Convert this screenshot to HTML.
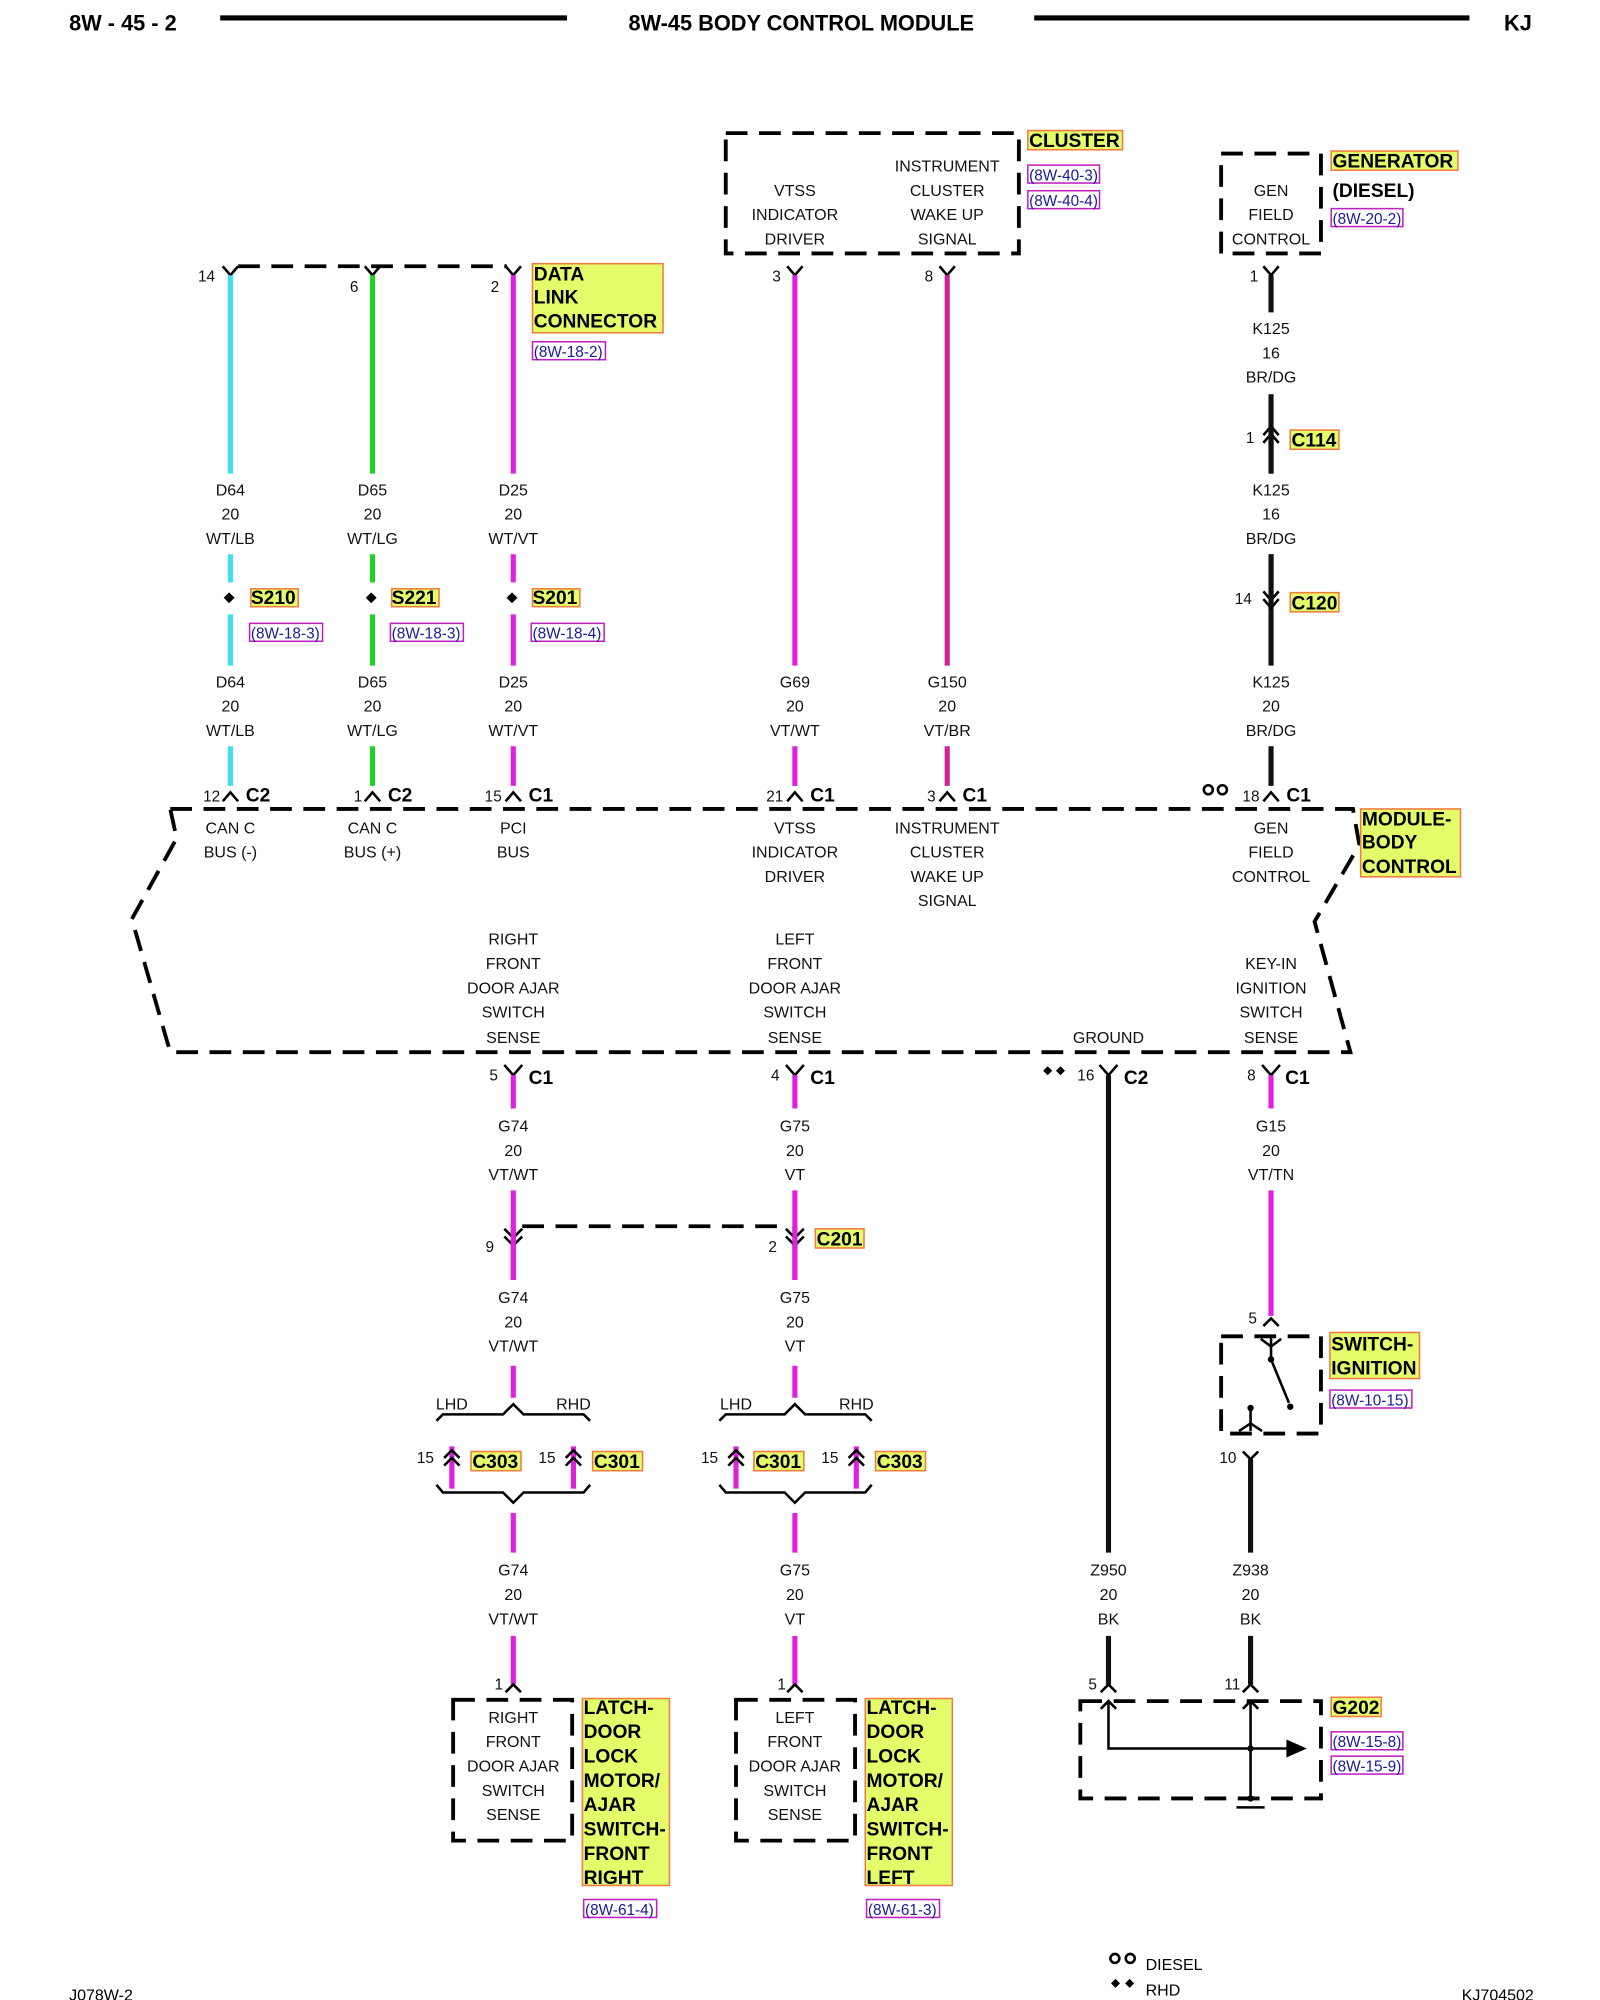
<!DOCTYPE html>
<html><head><meta charset="utf-8">
<style>
html,body{margin:0;padding:0;background:#fff;}
svg{display:block;}
.t{font-family:"Liberation Sans",sans-serif;font-size:12.5px;text-anchor:middle;fill:#111;}
.n{font-family:"Liberation Sans",sans-serif;font-size:12px;text-anchor:end;fill:#111;}
.c{font-family:"Liberation Sans",sans-serif;font-size:15px;font-weight:bold;fill:#000;}
.h{font-family:"Liberation Sans",sans-serif;font-size:17px;font-weight:bold;fill:#000;}
.y{font-family:"Liberation Sans",sans-serif;font-size:15px;font-weight:bold;fill:#000;}
.r{font-family:"Liberation Sans",sans-serif;font-size:12px;fill:#1a1a9a;}
.yb{fill:#e4fb6a;stroke:#f07a40;stroke-width:1.2;}
.rb{fill:none;stroke:#c020c0;stroke-width:1.2;}
.d{fill:none;stroke:#000;stroke-width:3;stroke-dasharray:17,9;}
.k{fill:none;stroke:#000;stroke-width:2;}
</style></head>
<body>
<svg width="1600" height="2000" viewBox="0 0 1250 1562.5" xmlns="http://www.w3.org/2000/svg">
<!-- header -->
<text class="h" x="54" y="24">8W - 45 - 2</text>
<line x1="172" y1="14" x2="443" y2="14" stroke="#000" stroke-width="4"/>
<text class="h" x="626" y="24" text-anchor="middle">8W-45 BODY CONTROL MODULE</text>
<line x1="808" y1="14" x2="1148" y2="14" stroke="#000" stroke-width="4"/>
<text class="h" x="1175" y="24">KJ</text>

<!-- DATA LINK CONNECTOR -->
<path class="d" d="M186 208 H396" stroke-width="2.5"/>
<g class="k">
<path d="M174 208 L180 215 L186 208"/><path d="M285 208 L291 215 L297 208"/><path d="M395 208 L401 215 L407 208"/>
</g>
<text class="n" x="168" y="220">14</text><text class="n" x="280" y="228">6</text><text class="n" x="390" y="228">2</text>
<rect class="yb" x="416" y="206" width="102" height="54"/>
<text class="y" x="417" y="219">DATA</text><text class="y" x="417" y="237">LINK</text><text class="y" x="417" y="256">CONNECTOR</text>
<rect class="rb" x="416" y="267" width="57" height="14"/><text class="r" x="417" y="279">(8W-18-2)</text>

<!-- CLUSTER box -->
<rect class="d" x="567" y="104" width="229" height="94"/>
<text class="t" x="621" y="153">VTSS</text><text class="t" x="621" y="172">INDICATOR</text><text class="t" x="621" y="191">DRIVER</text>
<text class="t" x="740" y="134">INSTRUMENT</text><text class="t" x="740" y="153">CLUSTER</text><text class="t" x="740" y="172">WAKE UP</text><text class="t" x="740" y="191">SIGNAL</text>
<rect class="yb" x="803" y="102" width="74" height="15"/><text class="y" x="804" y="115">CLUSTER</text>
<rect class="rb" x="803" y="129" width="56" height="14"/><text class="r" x="804" y="141">(8W-40-3)</text>
<rect class="rb" x="803" y="149" width="56" height="14"/><text class="r" x="804" y="161">(8W-40-4)</text>
<g class="k"><path d="M615 208 L621 215 L627 208"/><path d="M734 208 L740 215 L746 208"/></g>
<text class="n" x="610" y="220">3</text><text class="n" x="729" y="220">8</text>

<!-- GENERATOR box -->
<rect class="d" x="954" y="120" width="78" height="78"/>
<text class="t" x="993" y="153">GEN</text><text class="t" x="993" y="172">FIELD</text><text class="t" x="993" y="191">CONTROL</text>
<rect class="yb" x="1040" y="118" width="99" height="15"/><text class="y" x="1041" y="131">GENERATOR</text>
<text class="y" x="1041" y="154">(DIESEL)</text>
<rect class="rb" x="1040" y="163" width="56" height="14"/><text class="r" x="1041" y="175">(8W-20-2)</text>
<g class="k"><path d="M987 208 L993 215 L999 208"/></g>
<text class="n" x="983" y="220">1</text>

<!-- upper wires -->
<g stroke-width="4" fill="none">
<path d="M180 215 V370 M180 433 V455 M180 480 V520 M180 583 V614" stroke="#3ee0f0"/>
<path d="M291 215 V370 M291 433 V455 M291 480 V520 M291 583 V614" stroke="#22d022"/>
<path d="M401 215 V370 M401 433 V455 M401 480 V520 M401 583 V614" stroke="#e020e0"/>
<path d="M621 215 V520 M621 583 V614" stroke="#e020e0"/>
<path d="M740 215 V520 M740 583 V614" stroke="#d0209a"/>
<path d="M993 215 V244 M993 308 V370 M993 433 V520 M993 583 V614" stroke="#111"/>
</g>
<!-- wire labels top -->
<g class="t">
<text x="180" y="387">D64</text><text x="180" y="406">20</text><text x="180" y="425">WT/LB</text>
<text x="291" y="387">D65</text><text x="291" y="406">20</text><text x="291" y="425">WT/LG</text>
<text x="401" y="387">D25</text><text x="401" y="406">20</text><text x="401" y="425">WT/VT</text>
<text x="180" y="537">D64</text><text x="180" y="556">20</text><text x="180" y="575">WT/LB</text>
<text x="291" y="537">D65</text><text x="291" y="556">20</text><text x="291" y="575">WT/LG</text>
<text x="401" y="537">D25</text><text x="401" y="556">20</text><text x="401" y="575">WT/VT</text>
<text x="621" y="537">G69</text><text x="621" y="556">20</text><text x="621" y="575">VT/WT</text>
<text x="740" y="537">G150</text><text x="740" y="556">20</text><text x="740" y="575">VT/BR</text>
<text x="993" y="261">K125</text><text x="993" y="280">16</text><text x="993" y="299">BR/DG</text>
<text x="993" y="387">K125</text><text x="993" y="406">16</text><text x="993" y="425">BR/DG</text>
<text x="993" y="537">K125</text><text x="993" y="556">20</text><text x="993" y="575">BR/DG</text>
</g>
<!-- splices -->
<g fill="#000"><rect x="176" y="464" width="6" height="6" transform="rotate(45 179 467)"/><rect x="287" y="464" width="6" height="6" transform="rotate(45 290 467)"/><rect x="397" y="464" width="6" height="6" transform="rotate(45 400 467)"/></g>
<rect class="yb" x="196" y="460" width="37" height="14"/><text class="y" x="196" y="472" font-size="14">S210</text>
<rect class="yb" x="306" y="460" width="37" height="14"/><text class="y" x="306" y="472" font-size="14">S221</text>
<rect class="yb" x="416" y="460" width="37" height="14"/><text class="y" x="416" y="472" font-size="14">S201</text>
<rect class="rb" x="195" y="487" width="57" height="14"/><text class="r" x="196" y="499">(8W-18-3)</text>
<rect class="rb" x="305" y="487" width="57" height="14"/><text class="r" x="306" y="499">(8W-18-3)</text>
<rect class="rb" x="415" y="487" width="57" height="14"/><text class="r" x="416" y="499">(8W-18-4)</text>

<!-- C114 / C120 -->
<g class="k" stroke-width="2.2">
<path d="M987 340 L993 333 L999 340 M987 346 L993 339 L999 346"/>
<path d="M987 462 L993 469 L999 462 M987 468 L993 475 L999 468"/>
</g>
<path d="M993 333 V370 M993 433 V470" stroke="#111" stroke-width="4"/>
<text class="n" x="980" y="346">1</text>
<rect class="yb" x="1008" y="336" width="38" height="15"/><text class="y" x="1009" y="349" font-size="14">C114</text>
<text class="n" x="978" y="472">14</text>
<rect class="yb" x="1008" y="463" width="38" height="15"/><text class="y" x="1009" y="476" font-size="14">C120</text>

<!-- module top connectors -->
<g class="k">
<path d="M174 626 L180 619 L186 626"/><path d="M285 626 L291 619 L297 626"/><path d="M395 626 L401 619 L407 626"/>
<path d="M615 626 L621 619 L627 626"/><path d="M734 626 L740 619 L746 626"/><path d="M987 626 L993 619 L999 626"/>
</g>
<g>
<text class="n" x="172" y="626">12</text><text class="c" x="192" y="626">C2</text>
<text class="n" x="283" y="626">1</text><text class="c" x="303" y="626">C2</text>
<text class="n" x="392" y="626">15</text><text class="c" x="413" y="626">C1</text>
<text class="n" x="612" y="626">21</text><text class="c" x="633" y="626">C1</text>
<text class="n" x="731" y="626">3</text><text class="c" x="752" y="626">C1</text>
<text class="n" x="984" y="626">18</text><text class="c" x="1005" y="626">C1</text>
</g>
<circle cx="944" cy="617" r="3.5" fill="none" stroke="#000" stroke-width="2"/><circle cx="955" cy="617" r="3.5" fill="none" stroke="#000" stroke-width="2"/>

<!-- module box -->
<path class="d" stroke-width="2.6" d="M133 632 H1057 L1062 660 L1027 720 L1055 822 H133 L103 718 L138 655 Z"/>
<rect class="yb" x="1063" y="632" width="78" height="53"/>
<text class="y" x="1064" y="645">MODULE-</text><text class="y" x="1064" y="663">BODY</text><text class="y" x="1064" y="682">CONTROL</text>
<g class="t">
<text x="180" y="651">CAN C</text><text x="180" y="670">BUS (-)</text>
<text x="291" y="651">CAN C</text><text x="291" y="670">BUS (+)</text>
<text x="401" y="651">PCI</text><text x="401" y="670">BUS</text>
<text x="621" y="651">VTSS</text><text x="621" y="670">INDICATOR</text><text x="621" y="689">DRIVER</text>
<text x="740" y="651">INSTRUMENT</text><text x="740" y="670">CLUSTER</text><text x="740" y="689">WAKE UP</text><text x="740" y="708">SIGNAL</text>
<text x="993" y="651">GEN</text><text x="993" y="670">FIELD</text><text x="993" y="689">CONTROL</text>
<text x="401" y="738">RIGHT</text><text x="401" y="757">FRONT</text><text x="401" y="776">DOOR AJAR</text><text x="401" y="795">SWITCH</text><text x="401" y="815">SENSE</text>
<text x="621" y="738">LEFT</text><text x="621" y="757">FRONT</text><text x="621" y="776">DOOR AJAR</text><text x="621" y="795">SWITCH</text><text x="621" y="815">SENSE</text>
<text x="866" y="815">GROUND</text>
<text x="993" y="757">KEY-IN</text><text x="993" y="776">IGNITION</text><text x="993" y="795">SWITCH</text><text x="993" y="815">SENSE</text>
</g>

<!-- module bottom connectors -->
<g class="k">
<path d="M394 832 L401 840 L408 832"/><path d="M614 832 L621 840 L628 832"/><path d="M859 832 L866 840 L873 832"/><path d="M986 832 L993 840 L1000 832"/>
</g>
<text class="n" x="389" y="844">5</text><text class="c" x="413" y="847">C1</text>
<text class="n" x="609" y="844">4</text><text class="c" x="633" y="847">C1</text>
<text class="n" x="855" y="844">16</text><text class="c" x="878" y="847">C2</text>
<text class="n" x="981" y="844">8</text><text class="c" x="1004" y="847">C1</text>
<g fill="#000"><rect x="816" y="834" width="5" height="5" transform="rotate(45 818.5 836.5)"/><rect x="826" y="834" width="5" height="5" transform="rotate(45 828.5 836.5)"/></g>

<!-- lower wires -->
<g stroke-width="4" fill="none">
<path d="M401 840 V866 M401 930 V1000 M401 1067 V1092 M353 1130 V1163 M448 1130 V1163 M401 1182 V1213 M401 1278 V1316" stroke="#e020e0"/>
<path d="M621 840 V866 M621 930 V1000 M621 1067 V1092 M575 1130 V1163 M669 1130 V1163 M621 1182 V1213 M621 1278 V1316" stroke="#e020e0"/>
<path d="M993 840 V866 M993 930 V1028" stroke="#e020e0"/>
<path d="M866 840 V1213 M866 1278 V1316 M977 1140 V1213 M977 1278 V1316" stroke="#111"/>
</g>
<g class="t">
<text x="401" y="884">G74</text><text x="401" y="903">20</text><text x="401" y="922">VT/WT</text>
<text x="621" y="884">G75</text><text x="621" y="903">20</text><text x="621" y="922">VT</text>
<text x="993" y="884">G15</text><text x="993" y="903">20</text><text x="993" y="922">VT/TN</text>
<text x="401" y="1018">G74</text><text x="401" y="1037">20</text><text x="401" y="1056">VT/WT</text>
<text x="621" y="1018">G75</text><text x="621" y="1037">20</text><text x="621" y="1056">VT</text>
<text x="401" y="1231">G74</text><text x="401" y="1250">20</text><text x="401" y="1269">VT/WT</text>
<text x="621" y="1231">G75</text><text x="621" y="1250">20</text><text x="621" y="1269">VT</text>
<text x="866" y="1231">Z950</text><text x="866" y="1250">20</text><text x="866" y="1269">BK</text>
<text x="977" y="1231">Z938</text><text x="977" y="1250">20</text><text x="977" y="1269">BK</text>
</g>

<!-- C201 -->
<path class="d" stroke-width="2.5" d="M408 958 H614"/>
<g class="k" stroke-width="2.2">
<path d="M394 960 L401 967 L408 960 M394 966 L401 973 L408 966"/>
<path d="M614 960 L621 967 L628 960 M614 966 L621 973 L628 966"/>
</g>
<path d="M401 958 V1000 M621 958 V1000" stroke="#e020e0" stroke-width="4"/>
<text class="n" x="386" y="978">9</text><text class="n" x="607" y="978">2</text>
<rect class="yb" x="637" y="960" width="38" height="15"/><text class="y" x="638" y="973" font-size="14">C201</text>

<!-- LHD/RHD braces -->
<g class="k">
<path d="M341 1110 L346 1105 H393 L401 1097 L409 1105 H456 L461 1110"/>
<path d="M341 1160 L346 1166 H393 L401 1174 L409 1166 H456 L461 1160"/>
<path d="M562 1110 L567 1105 H613 L621 1097 L629 1105 H676 L681 1110"/>
<path d="M562 1160 L567 1166 H613 L621 1174 L629 1166 H676 L681 1160"/>
</g>
<g class="t" font-size="12">
<text x="353" y="1101">LHD</text><text x="448" y="1101">RHD</text>
<text x="575" y="1101">LHD</text><text x="669" y="1101">RHD</text>
</g>
<g class="k" stroke-width="2.2">
<path d="M347 1139 L353 1133 L359 1139 M347 1145 L353 1139 L359 1145"/>
<path d="M442 1139 L448 1133 L454 1139 M442 1145 L448 1139 L454 1145"/>
<path d="M569 1139 L575 1133 L581 1139 M569 1145 L575 1139 L581 1145"/>
<path d="M663 1139 L669 1133 L675 1139 M663 1145 L669 1139 L675 1145"/>
</g>
<g>
<text class="n" x="339" y="1143">15</text><rect class="yb" x="368" y="1134" width="39" height="15"/><text class="y" x="369" y="1147" font-size="14">C303</text>
<text class="n" x="434" y="1143">15</text><rect class="yb" x="463" y="1134" width="39" height="15"/><text class="y" x="464" y="1147" font-size="14">C301</text>
<text class="n" x="561" y="1143">15</text><rect class="yb" x="589" y="1134" width="39" height="15"/><text class="y" x="590" y="1147" font-size="14">C301</text>
<text class="n" x="655" y="1143">15</text><rect class="yb" x="684" y="1134" width="39" height="15"/><text class="y" x="685" y="1147" font-size="14">C303</text>
</g>

<!-- door latch boxes -->
<g class="k"><path d="M395 1322 L401 1316 L407 1322"/><path d="M615 1322 L621 1316 L627 1322"/></g>
<text class="n" x="393" y="1320">1</text><text class="n" x="614" y="1320">1</text>
<rect class="d" x="354" y="1328" width="93" height="110"/>
<rect class="d" x="575" y="1328" width="93" height="110"/>
<g class="t">
<text x="401" y="1346">RIGHT</text><text x="401" y="1365">FRONT</text><text x="401" y="1384">DOOR AJAR</text><text x="401" y="1403">SWITCH</text><text x="401" y="1422">SENSE</text>
<text x="621" y="1346">LEFT</text><text x="621" y="1365">FRONT</text><text x="621" y="1384">DOOR AJAR</text><text x="621" y="1403">SWITCH</text><text x="621" y="1422">SENSE</text>
</g>
<rect class="yb" x="455" y="1327" width="68" height="146"/>
<g class="y"><text x="456" y="1339">LATCH-</text><text x="456" y="1358">DOOR</text><text x="456" y="1377">LOCK</text><text x="456" y="1396">MOTOR/</text><text x="456" y="1415">AJAR</text><text x="456" y="1434">SWITCH-</text><text x="456" y="1453">FRONT</text><text x="456" y="1472">RIGHT</text></g>
<rect class="yb" x="676" y="1327" width="68" height="146"/>
<g class="y"><text x="677" y="1339">LATCH-</text><text x="677" y="1358">DOOR</text><text x="677" y="1377">LOCK</text><text x="677" y="1396">MOTOR/</text><text x="677" y="1415">AJAR</text><text x="677" y="1434">SWITCH-</text><text x="677" y="1453">FRONT</text><text x="677" y="1472">LEFT</text></g>
<rect class="rb" x="456" y="1484" width="57" height="14"/><text class="r" x="457" y="1496">(8W-61-4)</text>
<rect class="rb" x="677" y="1484" width="57" height="14"/><text class="r" x="678" y="1496">(8W-61-3)</text>

<!-- ignition switch -->
<g class="k"><path d="M987 1036 L993 1030 L999 1036"/></g>
<text class="n" x="982" y="1034">5</text>
<rect class="d" x="954" y="1044" width="78" height="76"/>
<g class="k">
<path d="M985 1046 L993 1052 L1001 1046 M993 1044 V1062 L1007 1096"/>
<path d="M968 1118 L977 1112 L986 1118 M977 1100 V1118"/>
</g>
<circle cx="993" cy="1062" r="2.5"/><circle cx="1008" cy="1099" r="2.5"/><circle cx="977" cy="1100" r="2.5"/>
<path d="M971 1134 L977 1140 L983 1134" class="k"/>
<text class="n" x="966" y="1143">10</text>
<rect class="yb" x="1039" y="1041" width="70" height="36"/>
<text class="y" x="1040" y="1055">SWITCH-</text><text class="y" x="1040" y="1074">IGNITION</text>
<rect class="rb" x="1039" y="1086" width="64" height="14"/><text class="r" x="1040" y="1098">(8W-10-15)</text>

<!-- G202 -->
<g class="k"><path d="M860 1322 L866 1316 L872 1322"/><path d="M971 1322 L977 1316 L983 1322"/></g>
<text class="n" x="857" y="1320">5</text><text class="n" x="969" y="1320">11</text>
<rect class="d" x="844" y="1329" width="188" height="76"/>
<g class="k">
<path d="M860 1335 L866 1329 L872 1335 M866 1329 V1366 H1005"/>
<path d="M971 1335 L977 1329 L983 1335 M977 1329 V1405"/>
<path d="M966 1412 H988"/>
</g>
<path d="M1005 1359 L1021 1366 L1005 1373 Z" fill="#000"/>
<circle cx="977" cy="1366" r="2.5"/><circle cx="977" cy="1405" r="2.5"/>
<rect class="yb" x="1040" y="1326" width="39" height="15"/><text class="y" x="1041" y="1339" font-size="14">G202</text>
<rect class="rb" x="1040" y="1353" width="56" height="14"/><text class="r" x="1041" y="1365">(8W-15-8)</text>
<rect class="rb" x="1040" y="1372" width="56" height="14"/><text class="r" x="1041" y="1384">(8W-15-9)</text>

<!-- footer -->
<text x="54" y="1563" font-family="Liberation Sans,sans-serif" font-size="12.5">J078W-2</text>
<circle cx="871" cy="1530" r="3.5" fill="none" stroke="#000" stroke-width="2"/><circle cx="883" cy="1530" r="3.5" fill="none" stroke="#000" stroke-width="2"/>
<text x="895" y="1539" font-family="Liberation Sans,sans-serif" font-size="12.5">DIESEL</text>
<g fill="#000"><rect x="869" y="1547" width="5" height="5" transform="rotate(45 871.5 1549.5)"/><rect x="880" y="1547" width="5" height="5" transform="rotate(45 882.5 1549.5)"/></g>
<text x="895" y="1559" font-family="Liberation Sans,sans-serif" font-size="12.5">RHD</text>
<text x="1142" y="1563" font-family="Liberation Sans,sans-serif" font-size="12.5">KJ704502</text>
</svg>
</body></html>
